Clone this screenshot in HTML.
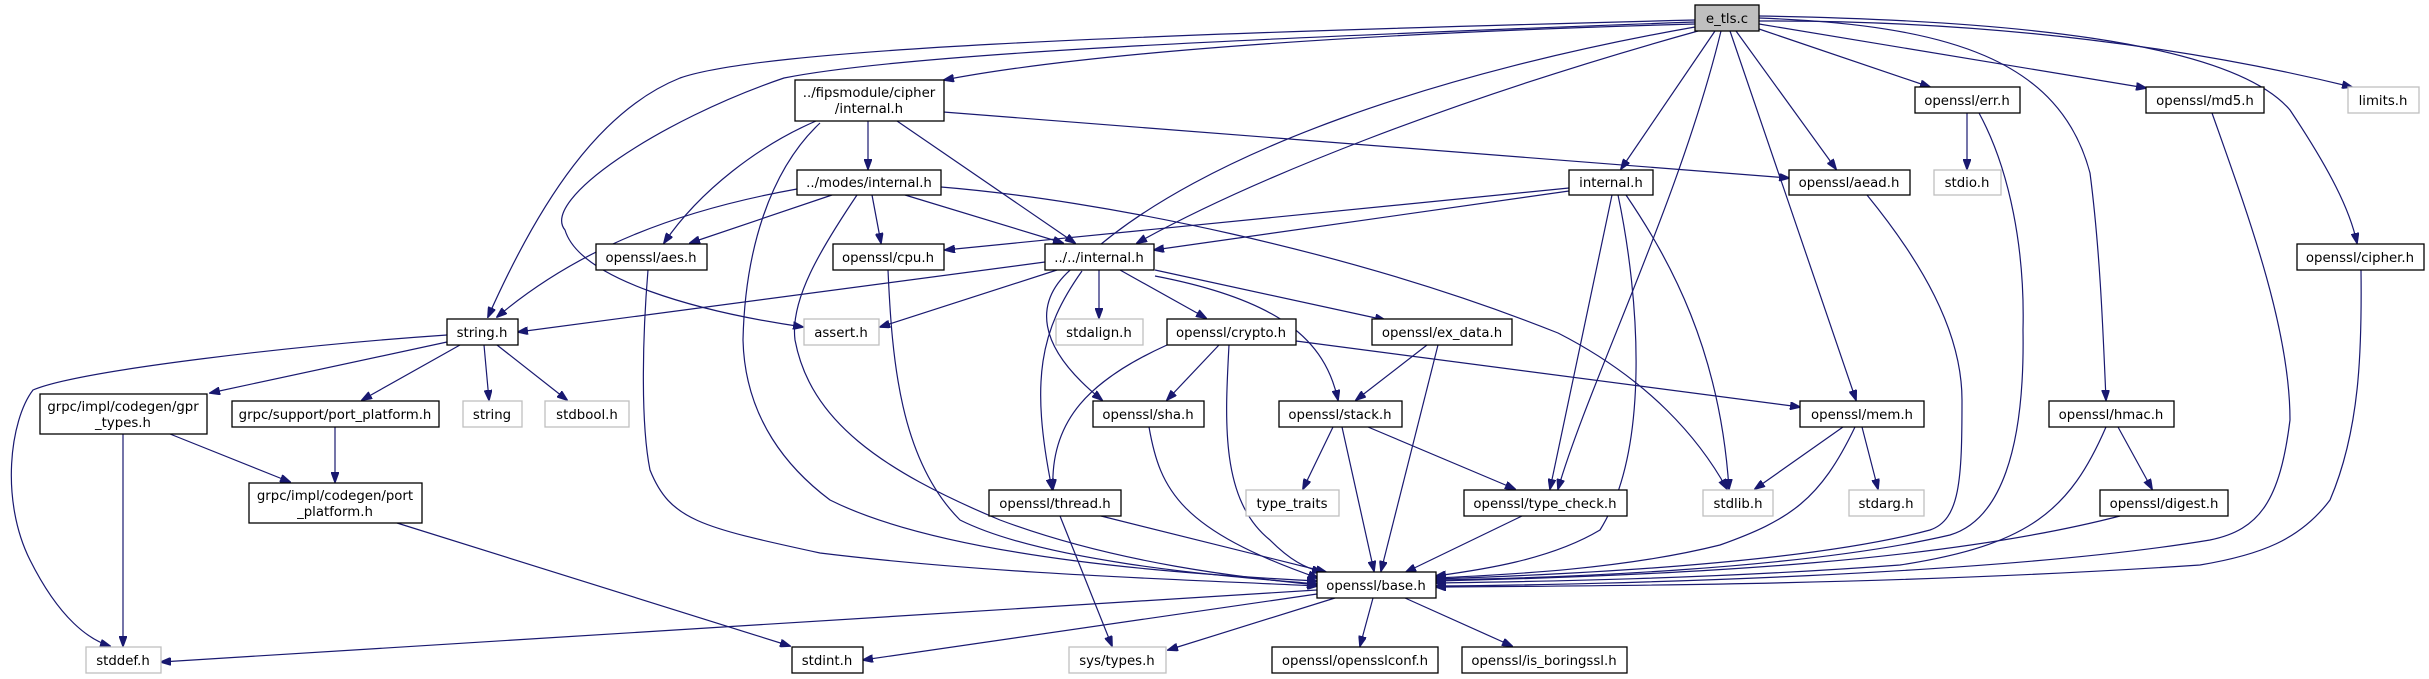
<!DOCTYPE html>
<html><head><meta charset="utf-8"><style>
html,body{margin:0;padding:0;background:#fff;}
svg{display:block}
text{font-family:"DejaVu Sans","Liberation Sans",sans-serif;font-size:13.3px;fill:#000;text-anchor:middle}
.n{fill:#fff;stroke:#000;stroke-width:1.3}
.g{fill:#fff;stroke:#bfbfbf;stroke-width:1.3}
path{fill:none;stroke:#191970;stroke-width:1.2}
</style></head><body>
<svg width="2429" height="679" viewBox="0 0 2429 679" xmlns="http://www.w3.org/2000/svg">
<defs><marker id="a" markerWidth="11" markerHeight="8" refX="10" refY="4" orient="auto" markerUnits="userSpaceOnUse"><polygon points="0,0 11,4 0,8" fill="#191970" stroke="#191970"/></marker></defs>
<g marker-end="url(#a)">
<!-- e_tls -->
<path d="M1695,20 C1100,35 760,50 680,78 C600,110 540,200 488,317"/>
<path d="M1695,22 C1200,40 900,55 784,78 C660,120 540,200 565,230 C580,280 700,312 803,327"/>
<path d="M1695,24 C1400,32 1100,50 944,80"/>
<path d="M1695,27 C1450,70 1200,150 1083,260 C1025,300 1040,350 1102,400"/>
<path d="M1698,31 C1450,100 1250,180 1137,243"/>
<path d="M1715,31 L1621,169"/>
<path d="M1721,31 C1680,200 1590,380 1558,489"/>
<path d="M1730,31 L1856,400"/>
<path d="M1736,31 L1836,169"/>
<path d="M1759,29 L1930,87"/>
<path d="M1759,24 L2146,88"/>
<path d="M1759,21 C2000,20 2200,50 2352,87"/>
<path d="M1759,18 C1950,25 2060,60 2090,173 C2100,250 2103,330 2106,400"/>
<path d="M1759,16 C2000,20 2230,40 2290,110 C2330,170 2350,210 2357,243"/>
<!-- fips -->
<path d="M816,121 C760,145 700,190 664,243"/>
<path d="M868,121 L868,169"/>
<path d="M897,121 L1075,243"/>
<path d="M892,108 L1789,178"/>
<path d="M820,123 C770,170 745,250 743,340 C745,420 790,470 830,500 C950,560 1200,575 1317,581"/>
<!-- modes -->
<path d="M797,189 C680,210 580,247 497,317"/>
<path d="M832,195 L690,243"/>
<path d="M872,195 L881,243"/>
<path d="M905,195 L1063,243"/>
<path d="M941,187 C1100,200 1350,250 1558,333 C1650,380 1700,440 1727,489"/>
<path d="M857,195 C820,250 790,300 795,340 C810,420 880,470 1000,520 C1120,565 1250,578 1317,585"/>
<!-- internal.h right -->
<path d="M1569,188 L945,250"/>
<path d="M1569,191 L1154,250"/>
<path d="M1612,195 L1550,489"/>
<path d="M1626,195 C1670,260 1720,350 1729,489"/>
<path d="M1618,195 C1640,300 1650,450 1600,530 C1550,560 1480,570 1436,576"/>
<!-- ../../internal.h -->
<path d="M1045,262 L518,332"/>
<path d="M1057,270 L880,327"/>
<path d="M1099,270 L1099,318"/>
<path d="M1120,270 L1206,318"/>
<path d="M1155,270 L1385,320"/>
<path d="M1155,276 C1280,300 1325,340 1338,400"/>
<path d="M1082,271 C1040,330 1030,380 1052,489"/>
<!-- crypto -->
<path d="M1167,345 C1090,380 1050,420 1053,489"/>
<path d="M1219,345 L1167,400"/>
<path d="M1229,345 C1225,420 1220,500 1270,540 C1290,560 1305,568 1322,572"/>
<path d="M1296,341 L1800,407"/>
<!-- ex_data -->
<path d="M1427,345 L1356,400"/>
<path d="M1438,345 L1381,571"/>
<!-- stack -->
<path d="M1333,427 L1303,489"/>
<path d="M1342,427 L1374,571"/>
<path d="M1368,427 L1515,489"/>
<!-- others to base -->
<path d="M1149,427 C1160,490 1180,530 1318,578"/>
<path d="M1101,516 L1326,572"/>
<path d="M1060,516 L1112,646"/>
<path d="M1522,516 L1406,572"/>
<path d="M1843,427 L1755,489"/>
<path d="M1862,427 L1878,489"/>
<path d="M1855,427 C1820,500 1790,520 1720,545 C1620,570 1500,575 1436,578"/>
<path d="M2118,427 L2152,489"/>
<path d="M2106,427 C2070,510 2030,545 1900,565 C1700,580 1500,582 1436,583"/>
<path d="M2120,516 C1950,560 1700,575 1436,581"/>
<path d="M1967,113 L1967,169"/>
<path d="M1979,113 C2010,170 2025,250 2023,330 C2025,450 2000,520 1950,535 C1800,570 1550,578 1436,580"/>
<path d="M1867,195 C1920,260 1962,330 1962,400 C1962,480 1960,520 1930,530 C1800,565 1550,575 1436,579"/>
<path d="M2212,113 C2250,220 2290,330 2290,420 C2280,500 2260,530 2210,540 C2000,575 1600,585 1436,586"/>
<path d="M2361,270 C2362,350 2360,430 2330,500 C2300,540 2260,555 2200,565 C1900,585 1600,586 1436,587"/>
<path d="M888,270 C892,360 900,460 960,520 C1050,565 1250,578 1317,584"/>
<path d="M648,270 C643,330 640,420 650,470 C670,520 700,527 820,553 C1000,575 1200,580 1317,586"/>
<!-- base -->
<path d="M1317,590 L161,662"/>
<path d="M1317,594 L863,660"/>
<path d="M1335,598 L1168,650"/>
<path d="M1373,598 L1360,646"/>
<path d="M1405,598 L1512,646"/>
<!-- string.h -->
<path d="M447,335 C300,345 80,370 33,390 C10,420 0,500 30,560 C60,620 90,640 110,646"/>
<path d="M447,342 L210,393"/>
<path d="M460,345 L362,400"/>
<path d="M484,345 L489,400"/>
<path d="M497,345 L567,400"/>
<path d="M123,434 L123,646"/>
<path d="M170,434 L290,482"/>
<path d="M335,427 L335,482"/>
<path d="M397,523 L790,646"/>
</g>
<!-- nodes -->
<rect x="1695" y="5" width="64" height="26" fill="#bfbfbf" stroke="#000" stroke-width="1.3"/><text x="1727" y="23">e_tls.c</text>
<rect class="n" x="795" y="80" width="149" height="41"/><text x="869" y="97">../fipsmodule/cipher</text><text x="869" y="113">/internal.h</text>
<rect class="n" x="797" y="170" width="144" height="25"/><text x="869" y="187">../modes/internal.h</text>
<rect class="n" x="596" y="244" width="111" height="26"/><text x="651" y="262">openssl/aes.h</text>
<rect class="n" x="833" y="244" width="111" height="26"/><text x="888" y="262">openssl/cpu.h</text>
<rect class="n" x="1045" y="244" width="109" height="26"/><text x="1099" y="262">../../internal.h</text>
<rect class="n" x="1569" y="170" width="84" height="25"/><text x="1611" y="187">internal.h</text>
<rect class="n" x="1789" y="170" width="121" height="25"/><text x="1849" y="187">openssl/aead.h</text>
<rect class="g" x="1934" y="170" width="67" height="25"/><text x="1967" y="187">stdio.h</text>
<rect class="n" x="1915" y="87" width="105" height="26"/><text x="1967" y="105">openssl/err.h</text>
<rect class="n" x="2146" y="87" width="118" height="26"/><text x="2205" y="105">openssl/md5.h</text>
<rect class="g" x="2348" y="87" width="71" height="26"/><text x="2383" y="105">limits.h</text>
<rect class="n" x="2297" y="244" width="127" height="26"/><text x="2360" y="262">openssl/cipher.h</text>
<rect class="n" x="447" y="319" width="71" height="26"/><text x="482" y="337">string.h</text>
<rect class="g" x="804" y="319" width="75" height="26"/><text x="841" y="337">assert.h</text>
<rect class="g" x="1056" y="319" width="87" height="26"/><text x="1099" y="337">stdalign.h</text>
<rect class="n" x="1167" y="319" width="129" height="26"/><text x="1231" y="337">openssl/crypto.h</text>
<rect class="n" x="1372" y="319" width="140" height="26"/><text x="1442" y="337">openssl/ex_data.h</text>
<rect class="n" x="40" y="394" width="167" height="40"/><text x="123" y="411">grpc/impl/codegen/gpr</text><text x="123" y="427">_types.h</text>
<rect class="n" x="232" y="401" width="207" height="26"/><text x="335" y="419">grpc/support/port_platform.h</text>
<rect class="g" x="463" y="401" width="59" height="26"/><text x="492" y="419">string</text>
<rect class="g" x="545" y="401" width="84" height="26"/><text x="587" y="419">stdbool.h</text>
<rect class="n" x="249" y="483" width="173" height="40"/><text x="335" y="500">grpc/impl/codegen/port</text><text x="335" y="516">_platform.h</text>
<rect class="n" x="1093" y="401" width="111" height="26"/><text x="1148" y="419">openssl/sha.h</text>
<rect class="n" x="1279" y="401" width="123" height="26"/><text x="1340" y="419">openssl/stack.h</text>
<rect class="n" x="1800" y="401" width="124" height="26"/><text x="1862" y="419">openssl/mem.h</text>
<rect class="n" x="2049" y="401" width="125" height="26"/><text x="2111" y="419">openssl/hmac.h</text>
<rect class="n" x="989" y="490" width="132" height="26"/><text x="1055" y="508">openssl/thread.h</text>
<rect class="g" x="1246" y="490" width="93" height="26"/><text x="1292" y="508">type_traits</text>
<rect class="n" x="1464" y="490" width="163" height="26"/><text x="1545" y="508">openssl/type_check.h</text>
<rect class="g" x="1703" y="490" width="70" height="26"/><text x="1738" y="508">stdlib.h</text>
<rect class="g" x="1849" y="490" width="75" height="26"/><text x="1886" y="508">stdarg.h</text>
<rect class="n" x="2100" y="490" width="128" height="26"/><text x="2164" y="508">openssl/digest.h</text>
<rect class="n" x="1317" y="572" width="119" height="26"/><text x="1376" y="590">openssl/base.h</text>
<rect class="g" x="86" y="647" width="75" height="26"/><text x="123" y="665">stddef.h</text>
<rect class="n" x="792" y="647" width="71" height="26"/><text x="827" y="665">stdint.h</text>
<rect class="g" x="1069" y="647" width="97" height="26"/><text x="1117" y="665">sys/types.h</text>
<rect class="n" x="1272" y="647" width="166" height="26"/><text x="1355" y="665">openssl/opensslconf.h</text>
<rect class="n" x="1462" y="647" width="165" height="26"/><text x="1544" y="665">openssl/is_boringssl.h</text>
</svg>
</body></html>
